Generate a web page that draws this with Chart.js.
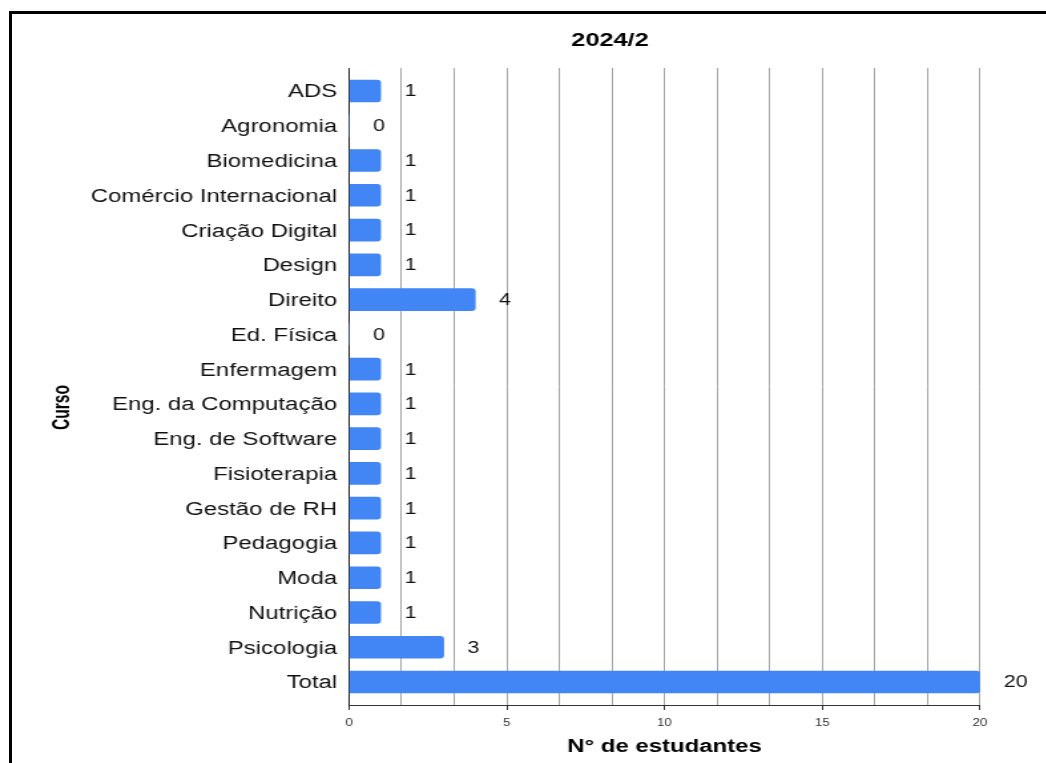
<!DOCTYPE html>
<html><head><meta charset="utf-8">
<script src="https://cdn.jsdelivr.net/npm/chart.js@4"></script>
<style>
html,body{margin:0;padding:0;background:#fff;overflow:hidden;width:1046px;height:763px;}
#frame{position:absolute;left:9px;top:11px;width:2000px;height:2000px;border-left:3px solid #000;border-top:3px solid #000;pointer-events:none;}
#wrap{position:absolute;left:0;top:0;width:800px;height:763px;transform:scaleX(1.33);transform-origin:0 0;}
</style></head><body>
<div id="wrap"><canvas id="c"></canvas></div>
<div id="frame"></div>
<script>
const chartTitle = '2024/2';
const categories = ['ADS','Agronomia','Biomedicina','Comércio Internacional','Criação Digital','Design','Direito','Ed. Física','Enfermagem','Eng. da Computação','Eng. de Software','Fisioterapia','Gestão de RH','Pedagogia','Moda','Nutrição','Psicologia','Total'];
const students = [1,0,1,1,1,1,4,0,1,1,1,1,1,1,1,1,3,20];
const xTickLabels = [0,5,10,15,20];
const xAxisTitle = 'N° de estudantes';
const yAxisTitle = 'Curso';

const S = 1.33;
const FONT = '"Liberation Sans", Arial, Helvetica, sans-serif';
const xMax = 20, gridDivisions = 12;
const gridValues = Array.from({length: gridDivisions + 1}, (_, i) => i * xMax / gridDivisions);
const isMajor = v => xTickLabels.some(t => Math.abs(t - v) < 1e-6);

const valueLabels = {
  id: 'valueLabels',
  afterDatasetsDraw(chart) {
    const ctx = chart.ctx, meta = chart.getDatasetMeta(0);
    ctx.save();
    ctx.font = '16px ' + FONT; ctx.fillStyle = '#111';
    ctx.textAlign = 'left'; ctx.textBaseline = 'middle';
    meta.data.forEach((bar, i) => ctx.fillText(String(students[i]), bar.x + 18, bar.y + 1));
    ctx.restore();
  }
};
const titles = {
  id: 'titles',
  afterDraw(chart) {
    const ctx = chart.ctx;
    ctx.save();
    ctx.fillStyle = '#000'; ctx.textAlign = 'center'; ctx.textBaseline = 'alphabetic';
    ctx.font = 'bold 19px ' + FONT;
    ctx.fillText(chartTitle, 610 / S, 46);
    ctx.translate(62 / S, 407.5);
    ctx.rotate(-Math.PI / 2);
    ctx.scale(0.82, 1);
    ctx.textBaseline = 'middle';
    ctx.font = 'bold 19px ' + FONT;
    ctx.fillText(yAxisTitle, 0, 0);
    ctx.restore();
  }
};

new Chart(document.getElementById('c'), {
  type: 'bar',
  data: {
    datasets: [{
      data: students.map((v, i) => ({x: v, y: i})),
      backgroundColor: '#4285F4',
      borderRadius: 3,
      barThickness: 22
    }]
  },
  options: {
    indexAxis: 'y',
    responsive: true,
    maintainAspectRatio: false,
    animation: false,
    devicePixelRatio: 1,
    layout: { padding: { left: 0, right: 800 - 980 / S, top: 68, bottom: 0 } },
    plugins: { legend: { display: false }, tooltip: { enabled: false }, title: { display: false } },
    scales: {
      x: {
        type: 'linear', min: 0, max: xMax, bounds: 'data', position: 'bottom', offset: false,
        afterBuildTicks: s => { s.ticks = gridValues.map(v => ({value: v})); },
        afterFit: s => { s.height = 58; },
        ticks: { autoSkip: false, maxRotation: 0, padding: 7, color: '#333',
          font: { family: FONT, size: 10 },
          callback: v => isMajor(v) ? String(Math.round(v)) : '' },
        grid: {
          color: c => (c.tick && Math.abs(c.tick.value) < 1e-6) ? 'rgba(0,0,0,0)' : '#a4a4a4',
          lineWidth: 1, drawTicks: true, tickLength: 5, offset: false,
          tickColor: c => (c.tick && isMajor(c.tick.value)) ? '#333' : 'rgba(0,0,0,0)'
        },
        border: { display: true, color: '#333', width: 1 },
        title: { display: true, text: xAxisTitle, color: '#000',
          font: { family: FONT, size: 18, weight: 'bold' }, padding: { top: 0, bottom: 5 } }
      },
      y: {
        type: 'linear', reverse: true, bounds: 'data', offset: false,
        min: -0.6616, max: categories.length - 1 + 0.6616,
        afterBuildTicks: s => { s.ticks = categories.map((_, i) => ({value: i})); },
        afterFit: s => { s.width = 349 / S; },
        ticks: { autoSkip: false, padding: 9, color: '#111', labelOffset: 1.5,
          font: { family: FONT, size: 18 },
          callback: v => categories[v] },
        grid: { display: false, drawTicks: false, offset: false },
        border: { display: true, color: '#222', width: 1 }
      }
    }
  },
  plugins: [valueLabels, titles]
});
</script>
</body></html>
